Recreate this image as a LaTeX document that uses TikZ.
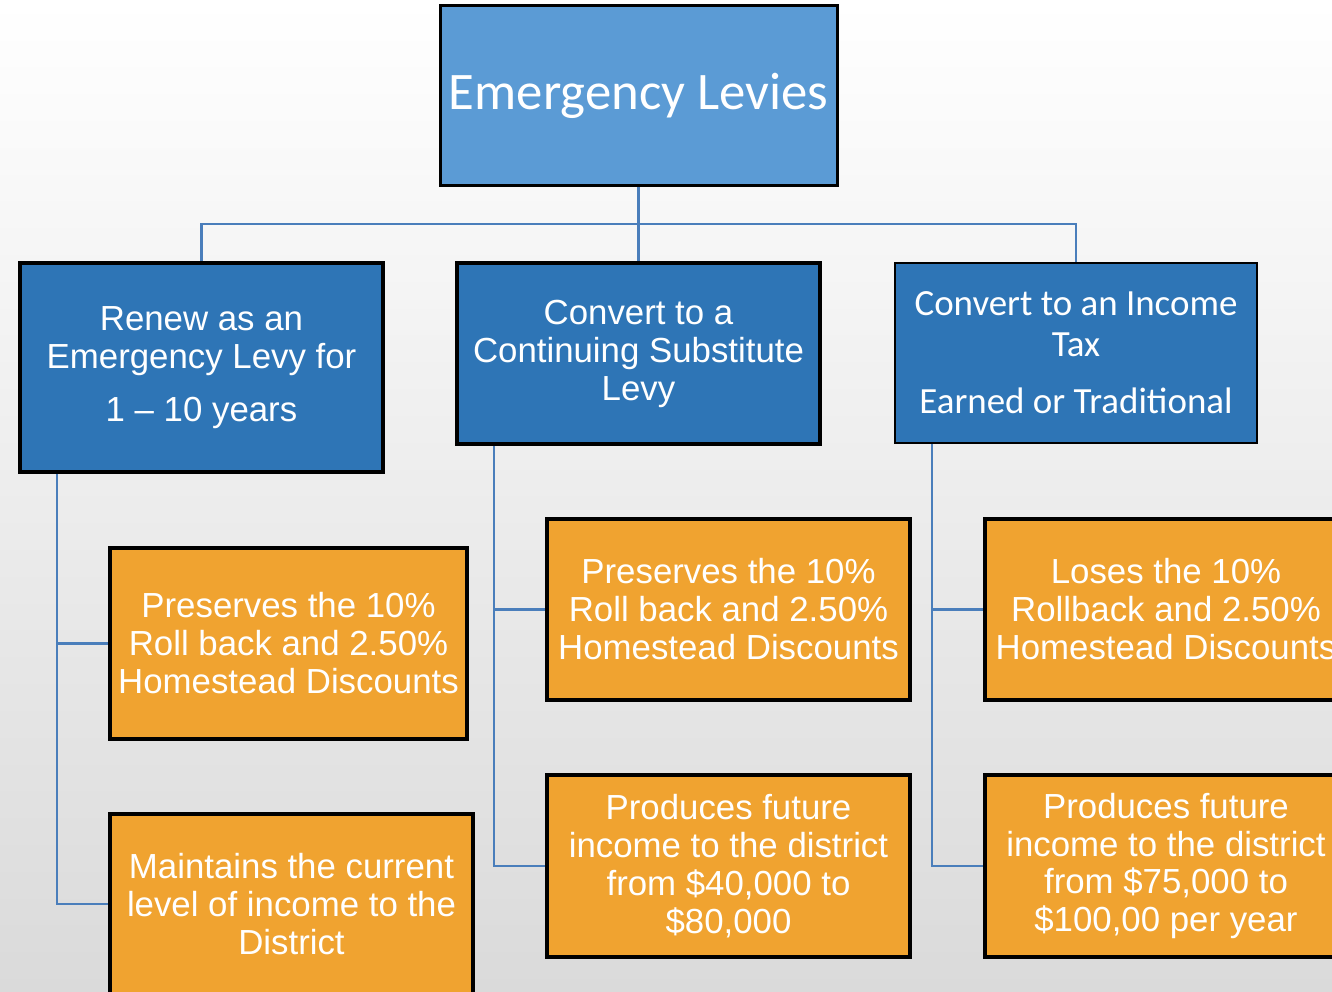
\documentclass[tikz,border=0pt]{standalone}
\usepackage{fontspec}
\setmainfont{Liberation Sans}
\newfontfamily\calib{Carlito}
\usetikzlibrary{calc}
\newdimen\pp \pp=0.01cm
\definecolor{topblue}{HTML}{5B9BD5}
\definecolor{midblue}{HTML}{2E75B6}
\definecolor{boxorange}{HTML}{F0A330}
\definecolor{linecol}{HTML}{4A7EBB}
\definecolor{bgbot}{HTML}{DADADA}
\definecolor{bgmid}{HTML}{F3F3F3}
\tikzset{
  box/.style={rectangle, inner sep=0pt, align=center, text=white, draw=black},
  bluebox/.style={box, fill=midblue},
  orbox/.style={box, fill=boxorange, line width=4\pp,
    font=\fontsize{9.9}{10.8}\selectfont},
  frank/.style={font=\fontsize{9.9}{10.8}\selectfont},
  conn/.style={draw=linecol, line width=2.2\pp}
}
\begin{document}
\begin{tikzpicture}[x=0.01cm,y=-0.01cm]
\useasboundingbox (0,0) rectangle (1332,992);
\clip (0,0) rectangle (1332,992);
\shade[top color=white, middle color=bgmid, bottom color=bgbot] (0,0) rectangle (1332,992);

% top
\node[box, fill=topblue, line width=3\pp, minimum width=397\pp, minimum height=180\pp,
  font=\calib\fontsize{15}{16}\selectfont] (top) at (638.5,96) {\raisebox{-1.2pt}{Emergency Levies}};

% second level
\node[bluebox, line width=4\pp, minimum width=363\pp, minimum height=209\pp, frank]
  (a1) at (201.5,367.5) {Renew as an\\Emergency Levy for\\[4.3pt]1 -- 10 years};
\node[bluebox, line width=4\pp, minimum width=363\pp, minimum height=181\pp, frank]
  (a2) at (638.5,353.5) {Convert to a\\Continuing Substitute\\Levy};
\node[bluebox, line width=2.5\pp, minimum width=362\pp, minimum height=180\pp,
  font=\calib\fontsize{10.5}{11.7}\selectfont]
  (a3) at (1076,353) {Convert to an Income\\Tax\\[4.5pt]Earned or Traditional};

% third level
\node[orbox, minimum width=357\pp, minimum height=191\pp] (b1) at (288.5,643.5)
  {Preserves the 10\%\\Roll back and 2.50\%\\Homestead Discounts};
\node[orbox, minimum width=363\pp, minimum height=180\pp] (b2) at (291.5,904)
  {Maintains the current\\level of income to the\\District};
\node[orbox, minimum width=363\pp, minimum height=181\pp] (c1) at (728.5,609.5)
  {Preserves the 10\%\\Roll back and 2.50\%\\Homestead Discounts};
\node[orbox, minimum width=363\pp, minimum height=182\pp] (c2) at (728.5,866)
  {Produces future\\income to the district\\from \$40,000 to\\\$80,000};
\node[orbox, minimum width=362\pp, minimum height=181\pp] (d1) at (1166,609.5)
  {Loses the 10\%\\Rollback and 2.50\%\\Homestead Discounts};
\node[orbox, minimum width=362\pp, minimum height=182\pp] (d2) at (1166,866)
  {Produces future\\income to the district\\from \$75,000 to\\\$100,00 per year};

% connectors
\coordinate (bus) at (638.5,224);
\draw[conn] (top.south) -- (top.south |- bus);
\draw[conn] (a1.north) |- (a3.north |- bus) -- (a3.north);
\draw[conn] (a2.north) -- (a2.north |- bus);

\path (a1.south west) ++(39,0) coordinate (ls);
\path (a2.south west) ++(39,0) coordinate (ms);
\path (a3.south west) ++(38,0) coordinate (rs);
\draw[conn] (ls) |- (b2.west);
\draw[conn] (ls |- b1.west) -- (b1.west);
\draw[conn] (ms) |- (c2.west);
\draw[conn] (ms |- c1.west) -- (c1.west);
\draw[conn] (rs) |- (d2.west);
\draw[conn] (rs |- d1.west) -- (d1.west);
\end{tikzpicture}
\end{document}
